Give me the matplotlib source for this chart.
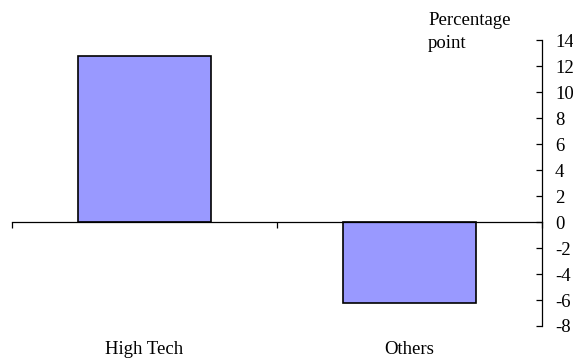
import matplotlib
matplotlib.use("Agg")
import matplotlib.pyplot as plt
from matplotlib.transforms import blended_transform_factory

categories = ["High Tech", "Others"]
values = [12.8, -6.2]
y_ticks = [14, 12, 10, 8, 6, 4, 2, 0, -2, -4, -6, -8]
unit_label = ["Percentage", "point"]

plt.rcParams["font.family"] = ["Liberation Serif", "DejaVu Serif"]
FS = 13.5

fig = plt.figure(figsize=(5.73, 3.62), dpi=100)
ax = fig.add_axes([0.02094, 0.09945, 0.925, 0.7887])

x = list(range(len(categories)))
ax.bar(x, values, width=0.505, color="#9999FF", edgecolor="black", linewidth=1.2, zorder=3)

ax.set_xlim(-0.5, len(categories) - 0.5)
ax.set_ylim(min(y_ticks), max(y_ticks))

# value axis on the right, ticks pointing inwards
for side in ("top", "left"):
    ax.spines[side].set_visible(False)
ax.spines["right"].set_linewidth(0.9)
ax.spines["bottom"].set_position(("data", 0))
ax.spines["bottom"].set_linewidth(0.9)
ax.spines["bottom"].set_zorder(4)

ax.yaxis.tick_right()
ax.set_yticks(y_ticks)
ax.set_yticklabels([str(t) for t in y_ticks])
ax.tick_params(axis="y", direction="in", length=4, width=0.9, pad=9.4, labelsize=FS)

# category boundaries marked on the zero line
bounds = [i - 0.5 for i in range(len(categories) + 1)]
ax.set_xticks(bounds)
ax.set_xticklabels([])
ax.tick_params(axis="x", direction="out", length=4, width=0.9)

trans = blended_transform_factory(ax.transData, fig.transFigure)
for i, name in enumerate(categories):
    ax.text(i, 1 - 350 / 362, name, transform=trans, ha="center", va="center", fontsize=FS)

fig.text(428 / 573, 1 - 25 / 362, unit_label[0], ha="left", va="baseline", fontsize=FS)
fig.text(428 / 573, 1 - 48 / 362, unit_label[1], ha="left", va="baseline", fontsize=FS)

fig.savefig("out.png", dpi=100)
